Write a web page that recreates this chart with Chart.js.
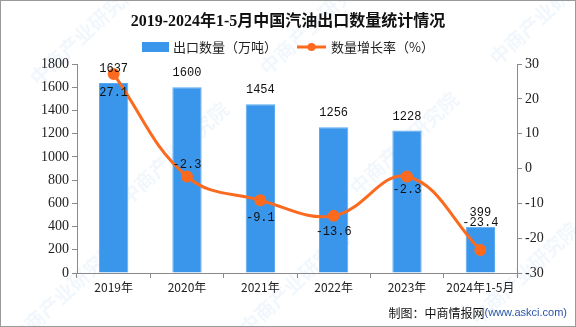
<!DOCTYPE html>
<html>
<head>
<meta charset="utf-8">
<script src="https://cdn.jsdelivr.net/npm/chart.js@4.4.1/dist/chart.umd.min.js"></script>
<style>
  html, body { margin: 0; padding: 0; background: #fff; }
  #wrap { width: 576px; height: 327px; position: relative; }
</style>
</head>
<body>
<div id="wrap"><canvas id="exportChart" width="576" height="327"></canvas></div>
<script>
const years = ["2019年", "2020年", "2021年", "2022年", "2023年", "2024年1-5月"];
const exportVolume = [1637, 1600, 1454, 1256, 1228, 399];   // 万吨
const growthRate = [27.1, -2.3, -9.1, -13.6, -2.3, -23.4];   // %

const BLUE = "#3a96ea";
const ORANGE = "#fb6a1e";
const AXIS = "#8a8a8a";

// label offsets for the growth line (px, + = below the point)
const rateLabelShift = [19, -12, 18, 16, 13, -27];

const fixedSize = (w, h) => scale => {
  if (w != null) scale.width = w;
  if (h != null) scale.height = h;
};

const decor = {
  id: "decor",
  beforeDraw(chart) {
    const ctx = chart.ctx;
    ctx.save();
    ctx.fillStyle = "#fff";
    ctx.fillRect(0, 0, chart.width, chart.height);
    // faint watermark
    ctx.fillStyle = "rgba(120,180,225,0.10)";
    ctx.font = "bold 20px 'Noto Sans CJK SC'";
    const marks = [[40, 30], [270, 20], [500, 10], [130, 150], [360, 140], [20, 290], [250, 280], [480, 270]];
    marks.forEach(([x, y]) => {
      ctx.save();
      ctx.translate(x, y);
      ctx.rotate(-Math.PI / 4.2);
      ctx.fillText("中商产业研究院", -40, 40);
      ctx.restore();
    });
    ctx.restore();
  },
  afterDraw(chart) {
    const ctx = chart.ctx;
    ctx.save();
    // frame
    ctx.strokeStyle = "#9a9a9a";
    ctx.lineWidth = 1;
    ctx.strokeRect(0.5, 0.5, chart.width - 1, chart.height - 1);

    // title
    ctx.fillStyle = "#111";
    ctx.textAlign = "center";
    ctx.textBaseline = "middle";
    ctx.font = "bold 16px 'Liberation Serif', 'Noto Sans CJK SC'";
    ctx.fillText("2019-2024年1-5月中国汽油出口数量统计情况", 288, 22);

    // legend
    ctx.font = "13px 'Noto Sans CJK SC'";
    ctx.textAlign = "left";
    ctx.fillStyle = BLUE;
    ctx.fillRect(142, 42, 27, 10);
    ctx.fillStyle = "#222";
    ctx.fillText("出口数量（万吨）", 173, 47);
    ctx.strokeStyle = ORANGE;
    ctx.lineWidth = 3;
    ctx.beginPath();
    ctx.moveTo(297, 47);
    ctx.lineTo(326, 47);
    ctx.stroke();
    ctx.fillStyle = ORANGE;
    ctx.beginPath();
    ctx.arc(311.5, 47, 4, 0, Math.PI * 2);
    ctx.fill();
    ctx.fillStyle = "#222";
    ctx.fillText("数量增长率（%）", 331, 47);

    // value labels
    ctx.font = "12px 'Liberation Mono', monospace";
    ctx.textAlign = "center";
    ctx.fillStyle = "#111";
    chart.getDatasetMeta(1).data.forEach((bar, i) => {
      ctx.fillText(String(exportVolume[i]), bar.x, bar.y - 14);
    });
    chart.getDatasetMeta(0).data.forEach((pt, i) => {
      ctx.fillText(growthRate[i].toFixed(1), pt.x, pt.y + rateLabelShift[i]);
    });

    // source note
    ctx.textAlign = "right";
    ctx.font = "11px 'Liberation Sans'";
    ctx.fillStyle = "#2a55a8";
    const url = "(www.askci.com)";
    ctx.fillText(url, 567, 313);
    const w = ctx.measureText(url).width;
    ctx.font = "12px 'Noto Sans CJK SC'";
    ctx.fillStyle = "#111";
    ctx.fillText("制图：中商情报网", 567 - w, 313);
    ctx.restore();
  }
};

new Chart(document.getElementById("exportChart"), {
  data: {
    labels: years,
    datasets: [
      {
        type: "line",
        label: "数量增长率（%）",
        data: growthRate,
        yAxisID: "yRate",
        borderColor: ORANGE,
        backgroundColor: ORANGE,
        borderWidth: 3,
        pointRadius: 4.5,
        pointHoverRadius: 4.5,
        tension: 0.4,
        order: 0,
      },
      {
        type: "bar",
        label: "出口数量（万吨）",
        data: exportVolume,
        yAxisID: "yVol",
        backgroundColor: BLUE,
        borderColor: "#5aa9f0",
        borderWidth: 1,
        barPercentage: 0.4,
        categoryPercentage: 1,
        order: 1,
      },
    ],
  },
  options: {
    responsive: false,
    animation: false,
    layout: { padding: { top: 64, left: 0, right: 0, bottom: 0 } },
    plugins: {
      legend: { display: false },
      tooltip: { enabled: false },
    },
    scales: {
      x: {
        offset: true,
        afterFit: fixedSize(null, 54),
        border: { color: AXIS },
        grid: { display: true, drawOnChartArea: false, offset: true, tickLength: 5, color: AXIS },
        ticks: { color: "#222", font: { family: "'Noto Sans CJK SC'", size: 12 }, padding: 2, maxRotation: 0 },
      },
      yVol: {
        position: "left",
        min: 0,
        max: 1800,
        afterFit: fixedSize(77, null),
        border: { color: AXIS },
        grid: { drawOnChartArea: false, tickLength: 5, color: AXIS },
        ticks: { stepSize: 200, color: "#222", padding: 3, font: { family: "'Liberation Serif'", size: 14 }, callback: v => String(v) },
      },
      yRate: {
        position: "right",
        min: -30,
        max: 30,
        afterFit: fixedSize(59, null),
        border: { color: AXIS },
        grid: { drawOnChartArea: false, tickLength: 5, color: AXIS },
        ticks: { stepSize: 10, color: "#222", padding: 3, font: { family: "'Liberation Serif'", size: 14 }, callback: v => String(v) },
      },
    },
  },
  plugins: [decor],
});
</script>
</body>
</html>
